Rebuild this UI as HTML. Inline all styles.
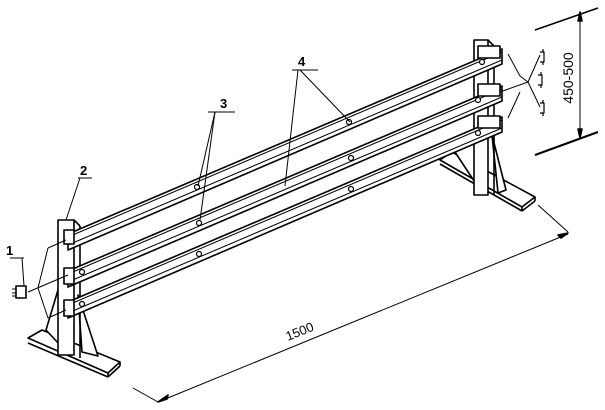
<!DOCTYPE html>
<html><head><style>html,body{margin:0;padding:0;background:#fff}svg{display:block}</style></head>
<body>
<svg width="605" height="410" viewBox="0 0 605 410" xmlns="http://www.w3.org/2000/svg" font-family="Liberation Sans, sans-serif">
<g stroke="#000" fill="none" stroke-width="1.6" stroke-linejoin="round">
<!-- left base -->
<polygon points="28,338 42,330 120,362 108,373" fill="#fff"/>
<line x1="28" y1="343" x2="108" y2="377"/>
<line x1="108" y1="373" x2="108" y2="377"/>
<line x1="120" y1="362" x2="120" y2="366"/><line x1="108" y1="377" x2="120" y2="366"/>
<polygon points="46,330 58,290 60,345" fill="#fff"/>
<polygon points="78,295 98,356 82,352" fill="#fff"/>
<!-- left post -->
<rect x="58" y="220" width="16" height="135" fill="#fff"/>
<line x1="74" y1="220" x2="80" y2="226"/><line x1="80" y1="226" x2="80" y2="358"/>
<!-- right base -->
<polygon points="440,160 452,152 535,197 522,207" fill="#fff"/>
<line x1="440" y1="164" x2="522" y2="211"/><line x1="522" y1="207" x2="522" y2="211"/><line x1="535" y1="197" x2="535" y2="201"/><line x1="522" y1="211" x2="535" y2="201"/>
<polygon points="455,152 475,130 480,190" fill="#fff"/>
<polygon points="492,135 506,190 498,193" fill="#fff"/>
<!-- right post -->
<rect x="474" y="40" width="14" height="155" fill="#fff"/>
<line x1="488" y1="40" x2="494" y2="46"/><line x1="494" y1="46" x2="494" y2="195"/>
<!-- rails -->
<g fill="#fff">
<polygon points="68,234 502,49 502,64 68,250"/>
<polygon points="68,271 502,86 502,101 68,287"/>
<polygon points="68,302 502,117 502,132 68,318"/>
</g>
<g stroke-width="1">
<line x1="68" y1="237" x2="502" y2="52"/><line x1="68" y1="245" x2="502" y2="60"/>
<line x1="68" y1="274" x2="502" y2="89"/><line x1="68" y1="282" x2="502" y2="97"/>
<line x1="68" y1="305" x2="502" y2="120"/><line x1="68" y1="313" x2="502" y2="128"/>
</g>
<!-- clamps -->
<rect x="64" y="230" width="10" height="14" fill="#fff"/>
<rect x="64" y="268" width="10" height="16" fill="#fff"/>
<rect x="64" y="300" width="10" height="16" fill="#fff"/>
<rect x="478" y="46" width="22" height="12" fill="#fff"/>
<rect x="478" y="84" width="22" height="12" fill="#fff"/>
<rect x="478" y="116" width="22" height="12" fill="#fff"/>
<!-- holes -->
<g stroke-width="1.2" fill="#fff">
<circle cx="197" cy="187" r="2.5"/><circle cx="349" cy="122" r="2.5"/>
<circle cx="199" cy="223" r="2.5"/><circle cx="351" cy="158" r="2.5"/>
<circle cx="199" cy="254" r="2.5"/><circle cx="351" cy="189" r="2.5"/>
<circle cx="82" cy="272" r="2.5"/><circle cx="82" cy="304" r="2.5"/>
<circle cx="482" cy="62" r="2.5"/><circle cx="478" cy="100" r="2.5"/><circle cx="478" cy="133" r="2.5"/>
</g>
<!-- wires left -->
<g stroke-width="1">
<line x1="28" y1="292" x2="68" y2="275"/>
<line x1="38" y1="288" x2="48" y2="248"/><line x1="48" y1="248" x2="66" y2="240"/>
<line x1="38" y1="288" x2="48" y2="318"/><line x1="48" y1="318" x2="66" y2="310"/>
<!-- wires right -->
<line x1="500" y1="92" x2="528" y2="82"/>
<line x1="528" y1="82" x2="540" y2="55"/><line x1="528" y1="82" x2="540" y2="107"/>
<line x1="508" y1="54" x2="520" y2="76"/><line x1="520" y1="76" x2="528" y2="82"/>
<line x1="508" y1="118" x2="520" y2="92"/>
</g>
<!-- left connector -->
<rect x="16" y="286" width="10" height="12" fill="#fff"/>
<path d="M16 289h-4M16 293h-4M16 296h-4" stroke-width="1"/>
<!-- right connector symbols -->
<path d="M540 52h4v10h-4M543 52v-3M543 62v3" stroke-width="1.2"/>
<path d="M538 75h4v10h-4M541 75v-3M541 85v3" stroke-width="1.2"/>
<path d="M540 103h4v10h-4M543 103v-3M543 113v3" stroke-width="1.2"/>
<!-- leaders -->
<g stroke-width="1">
<line x1="10" y1="258" x2="24" y2="258"/><line x1="22" y1="258" x2="24" y2="286"/>
<line x1="78" y1="178" x2="92" y2="178"/><line x1="80" y1="178" x2="66" y2="220"/>
<line x1="208" y1="112" x2="235" y2="112"/><line x1="215" y1="112" x2="198" y2="186"/><line x1="215" y1="112" x2="200" y2="220"/>
<line x1="292" y1="70" x2="318" y2="70"/><line x1="298" y1="70" x2="285" y2="186"/><line x1="300" y1="70" x2="350" y2="122"/>
</g>
<!-- dimension 1500 -->
<g stroke-width="1">
<line x1="133" y1="388" x2="158" y2="402"/>
<line x1="158" y1="402" x2="568" y2="234"/>
<line x1="538" y1="205" x2="568" y2="232"/>
</g>
<path d="M158 402l10-7 -1 4z" fill="#000"/>
<path d="M568 233l-10 2 3 3z" fill="#000"/>
<!-- dimension 450-500 -->
<line x1="535" y1="30" x2="598" y2="8" stroke-width="1.5"/>
<line x1="535" y1="155" x2="598" y2="132" stroke-width="2"/>
<line x1="580" y1="12" x2="580" y2="138" stroke-width="1"/>
<path d="M580 12l-2 9h4z M580 138l-2-9h4z" fill="#000"/>
</g>
<g font-size="13" font-weight="bold" fill="#000">
<text x="6" y="255">1</text>
<text x="80" y="175">2</text>
<text x="220" y="108">3</text>
<text x="298" y="66">4</text>
</g>
<text x="299" y="336" font-size="13" transform="rotate(-22 299 330)" text-anchor="middle">1500</text>
<text x="0" y="0" font-size="14" transform="translate(573 78) rotate(-90)" text-anchor="middle">450-500</text>
</svg>
</body></html>
